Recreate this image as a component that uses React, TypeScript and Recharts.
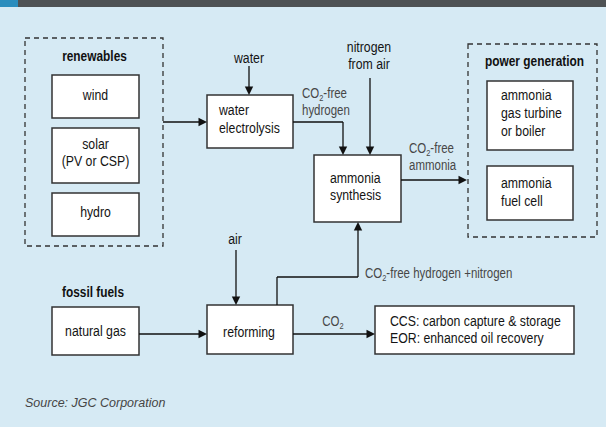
import React from 'react';
import { ScatterChart, Scatter, XAxis, YAxis, ReferenceArea, ReferenceLine } from 'recharts';

const W = 606;
const H = 427;

const SANS = '"Liberation Sans", Arial, sans-serif';
const NARROW_SCALE = 0.82;

// ---- diagram content ----
const groupNames = ['renewables', 'power generation'];
const groupBounds: number[][] = [
  [25, 38, 163, 246],
  [468, 44, 597, 237],
];

const boxNames = ['wind', 'solar', 'hydro', 'water electrolysis', 'ammonia synthesis', 'ammonia gas turbine', 'ammonia fuel cell', 'natural gas', 'reforming', 'CCS / EOR'];
const boxBounds: number[][] = [
  [52, 75, 139, 118],
  [52, 128, 139, 183],
  [52, 193, 139, 236],
  [207, 95, 293, 148],
  [314, 155, 401, 222],
  [487, 81, 573, 150],
  [487, 166, 573, 220],
  [52, 307, 139, 355],
  [207, 305, 293, 354],
  [375, 306, 574, 354],
];

// flows: polyline points, arrowhead at last point
const flows: number[][][] = [
  [[163, 122], [207, 122]],
  [[249, 66], [249, 95]],
  [[293, 122], [343, 122], [343, 155]],
  [[370, 78], [370, 155]],
  [[401, 180], [467, 180]],
  [[236, 250], [236, 305]],
  [[277, 305], [277, 277], [358, 277], [358, 222]],
  [[139, 334], [207, 334]],
  [[293, 334], [375, 334]],
];

type Label = { x: number; y: number; lines: string[]; anchor?: string; kind?: string; lh?: number };
const labels: Label[] = [
  { x: 94.5, y: 61, lines: ['renewables'], kind: 'head' },
  { x: 95.5, y: 100, lines: ['wind'] },
  { x: 95.5, y: 149, lines: ['solar', '(PV or CSP)'], lh: 16.5 },
  { x: 95.5, y: 217, lines: ['hydro'] },
  { x: 249, y: 63, lines: ['water'] },
  { x: 219, y: 115, lines: ['water', 'electrolysis'], anchor: 'start', lh: 18 },
  { x: 302, y: 97.5, lines: ['CO_2-free', 'hydrogen'], anchor: 'start', kind: 'flow', lh: 17 },
  { x: 369, y: 52, lines: ['nitrogen', 'from air'], lh: 17 },
  { x: 330, y: 183, lines: ['ammonia', 'synthesis'], anchor: 'start', lh: 17 },
  { x: 409, y: 152.5, lines: ['CO_2-free', 'ammonia'], anchor: 'start', kind: 'flow', lh: 17.5 },
  { x: 534.5, y: 66, lines: ['power generation'], kind: 'head' },
  { x: 501, y: 100, lines: ['ammonia', 'gas turbine', 'or boiler'], anchor: 'start', lh: 18 },
  { x: 501, y: 188, lines: ['ammonia', 'fuel cell'], anchor: 'start', lh: 18 },
  { x: 235, y: 244, lines: ['air'] },
  { x: 365, y: 278, lines: ['CO_2-free hydrogen +nitrogen'], anchor: 'start', kind: 'flow' },
  { x: 93, y: 297, lines: ['fossil fuels'], kind: 'head' },
  { x: 95.5, y: 336, lines: ['natural gas'] },
  { x: 249, y: 337, lines: ['reforming'] },
  { x: 333, y: 326, lines: ['CO_2'], kind: 'flow' },
  { x: 390, y: 326, lines: ['CCS: carbon capture & storage', 'EOR: enhanced oil recovery'], anchor: 'start', lh: 17 },
  { x: 25, y: 407, lines: ['Source: JGC Corporation'], anchor: 'start', kind: 'source' },
];

const styles: Record<string, any> = {
  box: { fontSize: 15, fill: '#141414', fontWeight: 'normal', fontStyle: 'normal', sx: NARROW_SCALE },
  head: { fontSize: 14.5, fill: '#111', fontWeight: 'bold', fontStyle: 'normal', sx: NARROW_SCALE },
  flow: { fontSize: 14, fill: '#474747', fontWeight: 'normal', fontStyle: 'normal', sx: NARROW_SCALE },
  source: { fontSize: 12.5, fill: '#454545', fontWeight: 'normal', fontStyle: 'italic', sx: 1 },
};

function richLine(line: string, fs: number) {
  const parts = line.split('_2');
  const out: any[] = [];
  parts.forEach((p, i) => {
    if (i === 0) {
      out.push(<tspan key={'p' + i}>{p}</tspan>);
    } else {
      out.push(
        <tspan key={'s' + i} dy={fs * 0.22} fontSize={fs * 0.65}>2</tspan>,
        <tspan key={'p' + i} dy={-fs * 0.22}>{p}</tspan>
      );
    }
  });
  return out;
}

const LabelShape = (props: any) => {
  const { cx, cy, payload } = props;
  if (cx == null || cy == null) return null;
  const st = styles[payload.kind || 'box'];
  const lh = payload.lh || 17;
  return (
    <g>
      {payload.lines.map((ln: string, i: number) => (
        <text
          key={i}
          x={0}
          y={0}
          transform={`translate(${cx},${cy + i * lh}) scale(${st.sx},1)`}
          textAnchor={payload.anchor || 'middle'}
          fontFamily={SANS}
          fontSize={st.fontSize}
          fontWeight={st.fontWeight}
          fontStyle={st.fontStyle}
          fill={st.fill}
        >
          {richLine(ln, st.fontSize)}
        </text>
      ))}
    </g>
  );
};

const ArrowHead = (props: any) => {
  const { cx, cy, payload } = props;
  if (cx == null || cy == null) return null;
  const L = 8.5;
  const hw = 4.2;
  const [dx, dy] = payload.dir;
  const bx = cx - dx * L;
  const by = cy - dy * L;
  const px = -dy * hw;
  const py = dx * hw;
  return <polygon points={`${cx},${cy} ${bx + px},${by + py} ${bx - px},${by - py}`} fill="#111" />;
};

export default function App() {
  const heads = flows.map((f) => {
    const a = f[f.length - 2];
    const b = f[f.length - 1];
    const len = Math.hypot(b[0] - a[0], b[1] - a[1]);
    return { x: b[0], y: b[1], dir: [(b[0] - a[0]) / len, (b[1] - a[1]) / len] };
  });
  const segs: { k: string; p: number[]; q: number[] }[] = [];
  flows.forEach((f, i) => {
    for (let j = 0; j < f.length - 1; j++) {
      const p = f[j];
      const n = f[j + 1];
      const last = j === f.length - 2;
      const q = last
        ? [n[0] - Math.sign(n[0] - p[0]) * 4, n[1] - Math.sign(n[1] - p[1]) * 4]
        : n;
      segs.push({ k: `f${i}-${j}`, p, q });
    }
  });

  return (
    <div style={{ position: 'absolute', left: 0, top: 0, width: W, height: H }}>
      <ScatterChart width={W} height={H} margin={{ top: 0, right: 0, bottom: 0, left: 0 }}>
        <XAxis type="number" dataKey="x" domain={[0, W]} allowDataOverflow hide />
        <YAxis type="number" dataKey="y" domain={[0, H]} allowDataOverflow reversed hide />

        {/* background & header bar */}
        <ReferenceArea x1={0} x2={W} y1={7} y2={H} fill="#d6eaf4" fillOpacity={1} stroke="none" ifOverflow="visible" />
        <ReferenceArea x1={0} x2={W} y1={0} y2={7} fill="#4e5254" fillOpacity={1} stroke="none" ifOverflow="visible" />
        <ReferenceArea x1={0} x2={18} y1={0} y2={7} fill="#2a8dbd" fillOpacity={1} stroke="none" ifOverflow="visible" />

        {groupBounds.map((g, i) => (
          <ReferenceArea
            key={groupNames[i]}
            x1={g[0]}
            x2={g[2]}
            y1={g[1]}
            y2={g[3]}
            fill="none"
            fillOpacity={0}
            stroke="#333"
            strokeWidth={1.3}
            strokeDasharray="5 4"
            ifOverflow="visible"
          />
        ))}
        {boxBounds.map((b, i) => (
          <ReferenceArea
            key={boxNames[i]}
            x1={b[0]}
            x2={b[2]}
            y1={b[1]}
            y2={b[3]}
            fill="#ffffff"
            fillOpacity={1}
            stroke="#333"
            strokeWidth={1.5}
            ifOverflow="visible"
          />
        ))}

        {segs.map((s) => (
          <ReferenceLine
            key={s.k}
            segment={[{ x: s.p[0], y: s.p[1] }, { x: s.q[0], y: s.q[1] }]}
            stroke="#111"
            strokeWidth={1.3}
            ifOverflow="visible"
          />
        ))}

        <Scatter data={heads} shape={ArrowHead} isAnimationActive={false} />
        <Scatter data={labels} shape={LabelShape} isAnimationActive={false} />
      </ScatterChart>
    </div>
  );
}
